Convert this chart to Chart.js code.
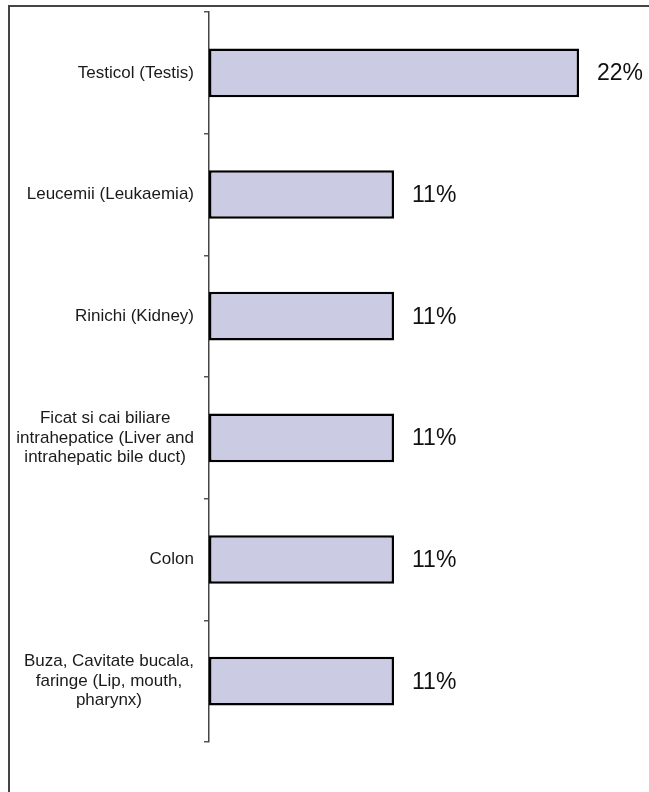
<!DOCTYPE html>
<html>
<head>
<meta charset="utf-8">
<script src="https://cdn.jsdelivr.net/npm/chart.js@4"></script>
<style>
  html, body { margin: 0; padding: 0; background: #fff; }
  #wrap { position: relative; width: 649px; height: 792px; overflow: hidden; }
  #frame {
    position: absolute; left: 8px; top: 5px; right: -10px; bottom: -10px;
    border-top: 2px solid #444; border-left: 2px solid #444;
  }
  #chart { position: absolute; left: 0; top: 0; }
</style>
</head>
<body>
<div id="wrap">
  <div id="frame"></div>
  <canvas id="chart" width="649" height="792"></canvas>
</div>
<script>
const categorias = [
  ['Testicol (Testis)'],
  ['Leucemii (Leukaemia)'],
  ['Rinichi (Kidney)'],
  ['Ficat si cai biliare', 'intrahepatice (Liver and', 'intrahepatic bile duct)'],
  ['Colon'],
  ['Buza, Cavitate bucala,', 'faringe (Lip, mouth,', 'pharynx)']
]
const valores = [22, 11, 11, 11, 11, 11]
const xMax = 25

const FONTE = '"Liberation Sans", Arial, sans-serif'

// rotulos das categorias: linhas centradas dentro do bloco, bloco encostado no eixo
const rotulosCategoria = {
  id: 'rotulosCategoria',
  afterDraw(chart) {
    const { ctx, scales: { y } } = chart
    const lineH = 19.5
    ctx.save()
    ctx.font = '17px ' + FONTE
    ctx.fillStyle = '#1a1a1a'
    ctx.textAlign = 'center'
    ctx.textBaseline = 'middle'
    categorias.forEach((linhas, i) => {
      const w = Math.max(...linhas.map(l => ctx.measureText(l).width))
      const cx = y.right - 15 - w / 2
      const cy = y.getPixelForValue(i)
      const y0 = cy - (linhas.length - 1) * lineH / 2
      linhas.forEach((l, k) => ctx.fillText(l, cx, y0 + k * lineH))
    })
    ctx.restore()
  }
}

// valor em % ao lado de cada barra
const rotulosValor = {
  id: 'rotulosValor',
  afterDatasetsDraw(chart) {
    const { ctx } = chart
    const meta = chart.getDatasetMeta(0)
    ctx.save()
    ctx.font = '23px ' + FONTE
    ctx.fillStyle = '#111'
    ctx.textAlign = 'left'
    ctx.textBaseline = 'middle'
    meta.data.forEach((bar, i) => {
      ctx.fillText(valores[i] + '%', bar.x + 18, bar.y + 1)
    })
    ctx.restore()
  }
}

new Chart(document.getElementById('chart'), {
  type: 'bar',
  data: {
    labels: categorias,
    datasets: [{
      data: valores,
      backgroundColor: '#cbcbe4',
      borderColor: '#000',
      borderWidth: 2.5,
      borderSkipped: false,
      categoryPercentage: 1,
      barPercentage: 0.4
    }]
  },
  options: {
    indexAxis: 'y',
    responsive: false,
    animation: false,
    layout: { padding: { top: 12, bottom: 50, left: 0, right: 19.5 } },
    plugins: { legend: { display: false }, tooltip: { enabled: false } },
    scales: {
      x: { display: false, min: 0, max: xMax },
      y: {
        offset: true,
        afterFit: s => { s.width = 209 },
        ticks: { display: false },
        grid: {
          offset: true,
          drawOnChartArea: false,
          drawTicks: true,
          tickLength: 5,
          color: '#555',
          lineWidth: 1.5
        },
        border: { display: true, color: '#444', width: 1.5 }
      }
    }
  },
  plugins: [rotulosCategoria, rotulosValor]
})
</script>
</body>
</html>
